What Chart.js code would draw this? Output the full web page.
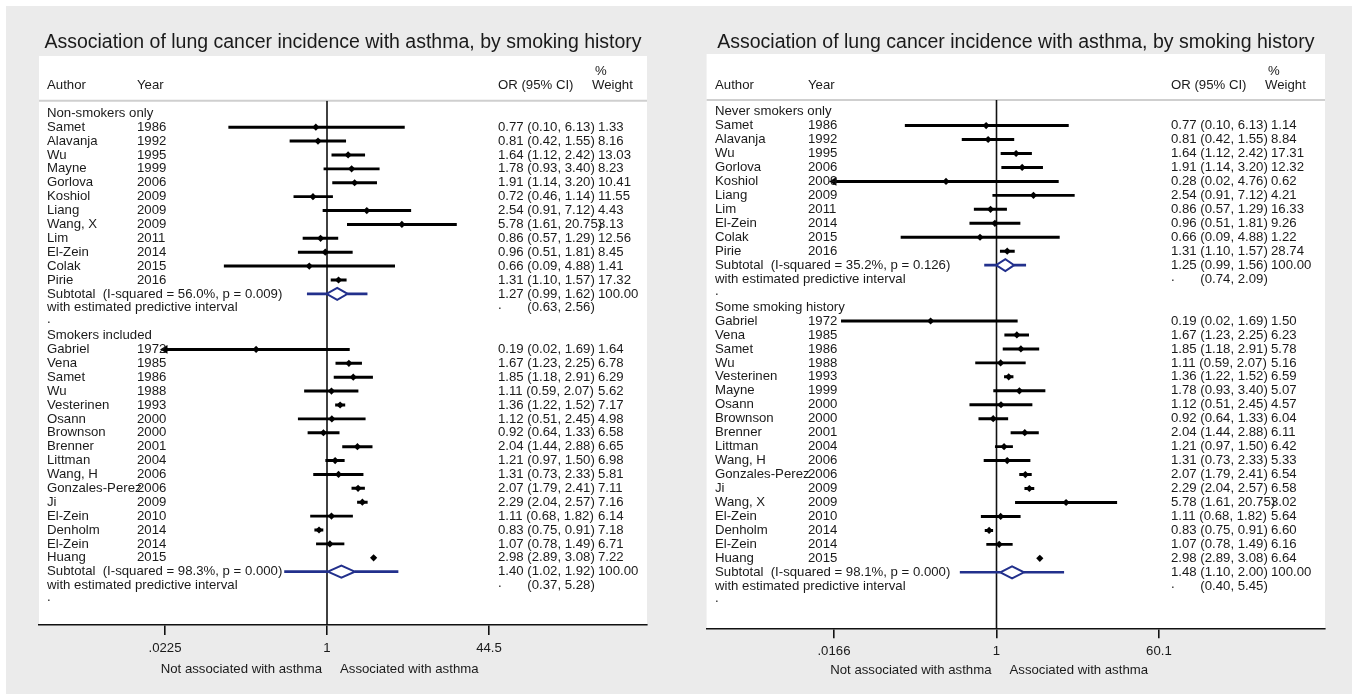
<!DOCTYPE html>
<html>
<head>
<meta charset="utf-8">
<script src="https://cdn.jsdelivr.net/npm/chart.js@4.4.1/dist/chart.umd.min.js"></script>
<style>
  html, body { margin: 0; padding: 0; background: #ffffff; }
  #bg { position: absolute; left: 6px; top: 6px; width: 1346px; height: 688px; background: #ebebeb; }
  canvas { position: absolute; left: 0; top: 0; }
</style>
</head>
<body>
<div id="bg"></div>
<canvas id="leftPlot" width="1352" height="694"></canvas>
<canvas id="rightPlot" width="1352" height="694"></canvas>
<script>
// ---------------- Left forest plot: non-smokers vs smokers included ----------------
const L1_LABEL  = 'Non-smokers only';
const L1_AUTHOR = ['Samet', 'Alavanja', 'Wu', 'Mayne', 'Gorlova', 'Koshiol', 'Liang', 'Wang, X', 'Lim', 'El-Zein', 'Colak', 'Pirie'];
const L1_YEAR   = [1986, 1992, 1995, 1999, 2006, 2009, 2009, 2009, 2011, 2014, 2015, 2016];
const L1_OR     = [0.77, 0.81, 1.64, 1.78, 1.91, 0.72, 2.54, 5.78, 0.86, 0.96, 0.66, 1.31];
const L1_LO     = [0.10, 0.42, 1.12, 0.93, 1.14, 0.46, 0.91, 1.61, 0.57, 0.51, 0.09, 1.10];
const L1_HI     = [6.13, 1.55, 2.42, 3.40, 3.20, 1.14, 7.12, 20.75, 1.29, 1.81, 4.88, 1.57];
const L1_WT     = [1.33, 8.16, 13.03, 8.23, 10.41, 11.55, 4.43, 3.13, 12.56, 8.45, 1.41, 17.32];
const L1_SUB    = [1.27, 0.99, 1.62, 100.00];   // pooled OR, lower, upper, weight
const L1_PI     = [0.63, 2.56];
const L1_HET    = ['56.0%', '0.009'];

const L2_LABEL  = 'Smokers included';
const L2_AUTHOR = ['Gabriel', 'Vena', 'Samet', 'Wu', 'Vesterinen', 'Osann', 'Brownson', 'Brenner', 'Littman', 'Wang, H', 'Gonzales-Perez', 'Ji', 'El-Zein', 'Denholm', 'El-Zein', 'Huang'];
const L2_YEAR   = [1972, 1985, 1986, 1988, 1993, 2000, 2000, 2001, 2004, 2006, 2006, 2009, 2010, 2014, 2014, 2015];
const L2_OR     = [0.19, 1.67, 1.85, 1.11, 1.36, 1.12, 0.92, 2.04, 1.21, 1.31, 2.07, 2.29, 1.11, 0.83, 1.07, 2.98];
const L2_LO     = [0.02, 1.23, 1.18, 0.59, 1.22, 0.51, 0.64, 1.44, 0.97, 0.73, 1.79, 2.04, 0.68, 0.75, 0.78, 2.89];
const L2_HI     = [1.69, 2.25, 2.91, 2.07, 1.52, 2.45, 1.33, 2.88, 1.50, 2.33, 2.41, 2.57, 1.82, 0.91, 1.49, 3.08];
const L2_WT     = [1.64, 6.78, 6.29, 5.62, 7.17, 4.98, 6.58, 6.65, 6.98, 5.81, 7.11, 7.16, 6.14, 7.18, 6.71, 7.22];
const L2_SUB    = [1.40, 1.02, 1.92, 100.00];
const L2_PI     = [0.37, 5.28];
const L2_HET    = ['98.3%', '0.000'];

const L_TICKS       = [0.0225, 1, 44.5];
const L_TICK_LABELS = ['.0225', '1', '44.5'];

// ---------------- Right forest plot: never smokers vs some smoking history ----------------
const R1_LABEL  = 'Never smokers only';
const R1_AUTHOR = ['Samet', 'Alavanja', 'Wu', 'Gorlova', 'Koshiol', 'Liang', 'Lim', 'El-Zein', 'Colak', 'Pirie'];
const R1_YEAR   = [1986, 1992, 1995, 2006, 2009, 2009, 2011, 2014, 2015, 2016];
const R1_OR     = [0.77, 0.81, 1.64, 1.91, 0.28, 2.54, 0.86, 0.96, 0.66, 1.31];
const R1_LO     = [0.10, 0.42, 1.12, 1.14, 0.016, 0.91, 0.57, 0.51, 0.09, 1.10];
const R1_HI     = [6.13, 1.55, 2.42, 3.20, 4.76, 7.12, 1.29, 1.81, 4.88, 1.57];
const R1_WT     = [1.14, 8.84, 17.31, 12.32, 0.62, 4.21, 16.33, 9.26, 1.22, 28.74];
const R1_SUB    = [1.25, 0.99, 1.56, 100.00];
const R1_PI     = [0.74, 2.09];
const R1_HET    = ['35.2%', '0.126'];

const R2_LABEL  = 'Some smoking history';
const R2_AUTHOR = ['Gabriel', 'Vena', 'Samet', 'Wu', 'Vesterinen', 'Mayne', 'Osann', 'Brownson', 'Brenner', 'Littman', 'Wang, H', 'Gonzales-Perez', 'Ji', 'Wang, X', 'El-Zein', 'Denholm', 'El-Zein', 'Huang'];
const R2_YEAR   = [1972, 1985, 1986, 1988, 1993, 1999, 2000, 2000, 2001, 2004, 2006, 2006, 2009, 2009, 2010, 2014, 2014, 2015];
const R2_OR     = [0.19, 1.67, 1.85, 1.11, 1.36, 1.78, 1.12, 0.92, 2.04, 1.21, 1.31, 2.07, 2.29, 5.78, 1.11, 0.83, 1.07, 2.98];
const R2_LO     = [0.02, 1.23, 1.18, 0.59, 1.22, 0.93, 0.51, 0.64, 1.44, 0.97, 0.73, 1.79, 2.04, 1.61, 0.68, 0.75, 0.78, 2.89];
const R2_HI     = [1.69, 2.25, 2.91, 2.07, 1.52, 3.40, 2.45, 1.33, 2.88, 1.50, 2.33, 2.41, 2.57, 20.75, 1.82, 0.91, 1.49, 3.08];
const R2_WT     = [1.50, 6.23, 5.78, 5.16, 6.59, 5.07, 4.57, 6.04, 6.11, 6.42, 5.33, 6.54, 6.58, 3.02, 5.64, 6.60, 6.16, 6.64];
const R2_SUB    = [1.48, 1.10, 2.00, 100.00];
const R2_PI     = [0.40, 5.45];
const R2_HET    = ['98.1%', '0.000'];

const R_TICKS       = [0.0166, 1, 60.1];
const R_TICK_LABELS = ['.0166', '1', '60.1'];

const TITLE   = 'Association of lung cancer incidence with asthma, by smoking history';
const X_LEFT_NOTE  = 'Not associated with asthma';
const X_RIGHT_NOTE = 'Associated with asthma';

// ---------------- styling / layout ----------------
const FONT  = '"Liberation Sans", Arial, sans-serif';
const INK   = '#1a1a1a';
const NAVY  = '#22308c';
const PAGE_W = 1352, PAGE_H = 694, AXIS_H = 45;
const TEXT_PX = 13.2, TITLE_PX = 19.5;

const LEFT_LAYOUT = {
  left: 39, right: 647, top: 100.7, bottom: 625, boxTop: 56,
  one: 327, perLn: 42.69, row0: 113.3, step: 13.89,
  titleY: 43, pctY: 71.5, headY: 85, noteY: 669,
  colAuthor: 47, colYear: 137, colOR: 498, colWt: 598, pctDx: -3, weightDx: -6
};
const RIGHT_LAYOUT = {
  left: 706.6, right: 1325, top: 100, bottom: 628.3, boxTop: 54,
  one: 996.5, perLn: 39.66, row0: 111.6, step: 13.96,
  titleY: 42.7, pctY: 71, headY: 85, noteY: 670.5,
  colAuthor: 715, colYear: 808, colOR: 1171, colWt: 1271, pctDx: -3, weightDx: -6
};

function group(label, author, year, or, lo, hi, wt, sub, pi, het) {
  return { label, author, year, or, lo, hi, wt, sub, pi, het };
}

function buildRows(groups) {
  const rows = [];
  groups.forEach(g => {
    rows.push({ kind: 'head', text: g.label });
    g.author.forEach((a, i) => rows.push({
      kind: 'study', author: a, year: g.year[i], or: g.or[i], lo: g.lo[i], hi: g.hi[i], wt: g.wt[i]
    }));
    rows.push({ kind: 'sub', or: g.sub[0], lo: g.sub[1], hi: g.sub[2], wt: g.sub[3], piLo: g.pi[0], piHi: g.pi[1], het: g.het });
    rows.push({ kind: 'pi', lo: g.pi[0], hi: g.pi[1] });
    rows.push({ kind: 'dot' });
  });
  rows.forEach((r, i) => { r.y = i; });
  return rows;
}

const ci = (o, l, h) => `${o.toFixed(2)} (${l.toFixed(2)}, ${h.toFixed(2)})`;

function drawPanel(canvasId, groups, ticks, tickLabels, L) {
  const rows = buildRows(groups);
  const studies = rows.filter(r => r.kind === 'study');
  const subs = rows.filter(r => r.kind === 'sub');
  const clipLo = ticks[0], clipHi = ticks[ticks.length - 1];

  const yMin = (L.top - L.row0) / L.step;
  const yMax = (L.bottom - L.row0) / L.step;
  const xMin = Math.exp((L.left - L.one) / L.perLn);
  const xMax = Math.exp((L.right - L.one) / L.perLn);

  const ciBars = studies.map(s => ({ x: [Math.max(s.lo, clipLo), Math.min(s.hi, clipHi)], y: s.y }));
  const arrows = studies.filter(s => s.lo < clipLo).map(s => ({ x: clipLo, y: s.y }));
  const piBars = [];
  subs.forEach(s => {
    piBars.push({ x: [s.piLo, s.lo], y: s.y });
    piBars.push({ x: [s.hi, s.piHi], y: s.y });
  });
  const dh = 0.43;
  const diamonds = subs.map(s => ({
    type: 'line',
    data: [
      { x: s.lo, y: s.y }, { x: s.or, y: s.y - dh }, { x: s.hi, y: s.y },
      { x: s.or, y: s.y + dh }, { x: s.lo, y: s.y }
    ],
    borderColor: NAVY, borderWidth: 2, pointRadius: 0, fill: false, tension: 0, order: 3
  }));

  const textPlugin = {
    id: 'forestText' + canvasId,
    beforeDraw(chart) {
      const { ctx, chartArea: a } = chart;
      ctx.save();
      ctx.fillStyle = '#ffffff';
      ctx.fillRect(a.left, L.boxTop, a.right - a.left, a.bottom - L.boxTop);
      ctx.strokeStyle = '#cfcfcf';
      ctx.lineWidth = 2;
      ctx.beginPath();
      ctx.moveTo(a.left, a.top);
      ctx.lineTo(a.right, a.top);
      ctx.stroke();
      ctx.restore();
    },
    afterDraw(chart) {
      const { ctx, chartArea: a } = chart;
      const ys = chart.scales.y, xs = chart.scales.x;
      ctx.save();
      ctx.fillStyle = INK;
      ctx.textBaseline = 'middle';

      ctx.textAlign = 'center';
      ctx.font = `${TITLE_PX}px ${FONT}`;
      ctx.fillText(TITLE, (a.left + a.right) / 2, L.titleY);

      ctx.textAlign = 'left';
      ctx.font = `${TEXT_PX}px ${FONT}`;
      ctx.fillText('Author', L.colAuthor, L.headY);
      ctx.fillText('Year', L.colYear, L.headY);
      ctx.fillText('OR (95% CI)', L.colOR, L.headY);
      ctx.fillText('%', L.colWt + L.pctDx, L.pctY);
      ctx.fillText('Weight', L.colWt + L.weightDx, L.headY);

      const lead = ctx.measureText('0.00 ').width;
      rows.forEach(r => {
        const py = ys.getPixelForValue(r.y);
        if (r.kind === 'head') {
          ctx.fillText(r.text, L.colAuthor, py);
        } else if (r.kind === 'study') {
          ctx.fillText(r.author, L.colAuthor, py);
          ctx.fillText(String(r.year), L.colYear, py);
          ctx.fillText(ci(r.or, r.lo, r.hi), L.colOR, py);
          ctx.fillText(r.wt.toFixed(2), L.colWt, py);
        } else if (r.kind === 'sub') {
          ctx.fillText(`Subtotal  (I-squared = ${r.het[0]}, p = ${r.het[1]})`, L.colAuthor, py);
          ctx.fillText(ci(r.or, r.lo, r.hi), L.colOR, py);
          ctx.fillText(r.wt.toFixed(2), L.colWt, py);
        } else if (r.kind === 'pi') {
          ctx.fillText('with estimated predictive interval', L.colAuthor, py);
          ctx.fillText('.', L.colOR, py - 2);
          ctx.fillText(`(${r.lo.toFixed(2)}, ${r.hi.toFixed(2)})`, L.colOR + lead, py);
        } else {
          ctx.fillText('.', L.colAuthor, py - 2);
        }
      });

      const p1 = xs.getPixelForValue(1);
      ctx.textAlign = 'right';
      ctx.fillText(X_LEFT_NOTE, p1 - 5, L.noteY);
      ctx.textAlign = 'left';
      ctx.fillText(X_RIGHT_NOTE, p1 + 13, L.noteY);
      ctx.restore();
    }
  };

  return new Chart(document.getElementById(canvasId), {
    type: 'scatter',
    data: {
      datasets: [
        { type: 'line', data: [{ x: 1, y: yMin }, { x: 1, y: yMax }], borderColor: '#111111', borderWidth: 1.6, pointRadius: 0, fill: false, order: 10 },
        { type: 'bar', indexAxis: 'y', data: ciBars, backgroundColor: '#000000', borderWidth: 0, barThickness: 2.3, grouped: false, order: 6 },
        { type: 'bar', indexAxis: 'y', data: piBars, backgroundColor: NAVY, borderWidth: 0, barThickness: 2, grouped: false, order: 5 },
        ...diamonds,
        { type: 'scatter', data: studies.map(s => ({ x: s.or, y: s.y })), pointStyle: 'rectRot', pointRadius: 3.6,
          pointBackgroundColor: '#000000', pointBorderColor: '#000000', pointBorderWidth: 0, order: 2 },
        { type: 'scatter', data: arrows, pointStyle: 'triangle', pointRotation: -90, pointRadius: 5,
          pointBackgroundColor: '#000000', pointBorderColor: '#000000', pointBorderWidth: 0, order: 1 }
      ]
    },
    options: {
      responsive: false,
      animation: false,
      devicePixelRatio: 1,
      layout: { padding: { left: L.left, right: PAGE_W - L.right, top: L.top, bottom: PAGE_H - L.bottom - AXIS_H } },
      plugins: { legend: { display: false }, tooltip: { enabled: false } },
      scales: {
        x: {
          type: 'logarithmic', position: 'bottom', min: xMin, max: xMax, offset: false,
          afterBuildTicks: s => { s.ticks = ticks.map(v => ({ value: v })); },
          afterFit: s => { s.height = AXIS_H; },
          ticks: { autoSkip: false, maxRotation: 0, padding: 5, color: INK,
                   font: { family: FONT, size: TEXT_PX }, callback: (v, i) => tickLabels[i] },
          grid: { display: true, offset: false, drawOnChartArea: false, drawTicks: true, tickLength: 10, color: '#111111', lineWidth: 1.6 },
          border: { display: true, color: '#111111', width: 1.6 }
        },
        y: { type: 'linear', display: false, reverse: true, min: yMin, max: yMax, offset: false, grid: { offset: false } }
      }
    },
    plugins: [textPlugin]
  });
}

drawPanel('leftPlot', [
  group(L1_LABEL, L1_AUTHOR, L1_YEAR, L1_OR, L1_LO, L1_HI, L1_WT, L1_SUB, L1_PI, L1_HET),
  group(L2_LABEL, L2_AUTHOR, L2_YEAR, L2_OR, L2_LO, L2_HI, L2_WT, L2_SUB, L2_PI, L2_HET)
], L_TICKS, L_TICK_LABELS, LEFT_LAYOUT);

drawPanel('rightPlot', [
  group(R1_LABEL, R1_AUTHOR, R1_YEAR, R1_OR, R1_LO, R1_HI, R1_WT, R1_SUB, R1_PI, R1_HET),
  group(R2_LABEL, R2_AUTHOR, R2_YEAR, R2_OR, R2_LO, R2_HI, R2_WT, R2_SUB, R2_PI, R2_HET)
], R_TICKS, R_TICK_LABELS, RIGHT_LAYOUT);
</script>
</body>
</html>
